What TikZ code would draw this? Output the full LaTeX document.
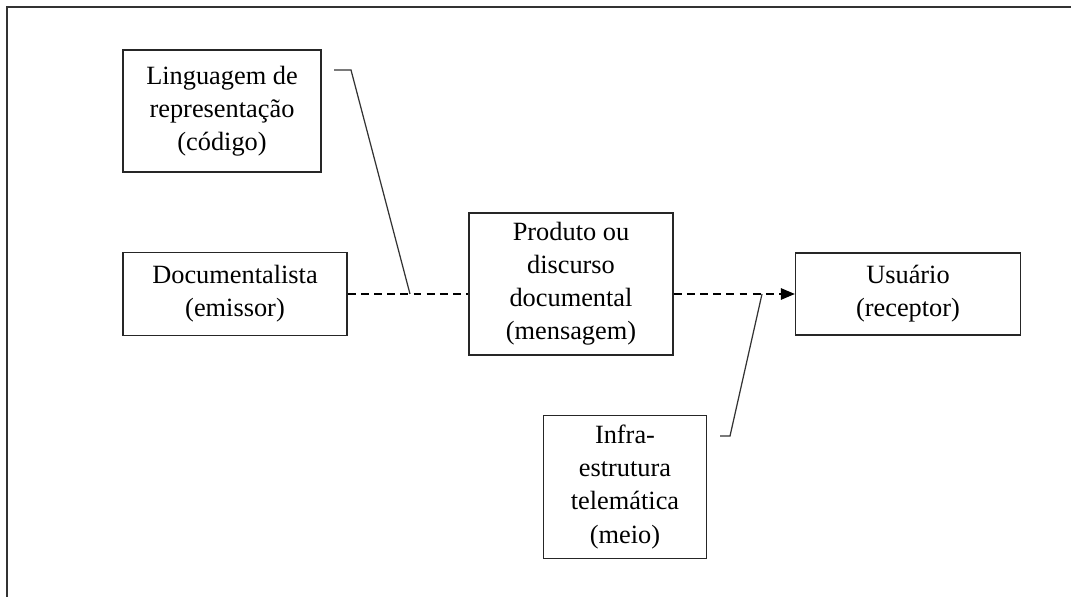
\documentclass[tikz,border=0pt]{standalone}
\usepackage{fontspec}
\setmainfont{Liberation Serif}
\usetikzlibrary{arrows.meta}
\usetikzlibrary{positioning}
\tikzstyle{caixa} = [rectangle, draw=black!85, line width=0.8pt, align=center, inner sep=0pt, font=\fontsize{15}{18.8}\selectfont]
\tikzstyle{fluxo} = [draw=black, line width=0.8pt, dash pattern=on 4.5pt off 3pt]
\tikzstyle{chamada} = [draw=black!80, line width=0.7pt]

\begin{document}
\begin{tikzpicture}[x=0.02cm,y=-0.02cm]
 \useasboundingbox (0,0) rectangle (1071,597);
 % moldura
 \draw[line width=1.2pt, black!80] (7,597) -- (7,7) -- (1071,7);

 \node (ling) [caixa, minimum width=3.96cm, minimum height=2.44cm] at (222,111)
  {Linguagem de\\representação\\(código)};
 \node (doc) [caixa, minimum width=4.48cm, minimum height=1.66cm] at (235,294)
  {Documentalista\\(emissor)};
 \node (prod) [caixa, minimum width=4.08cm, minimum height=2.84cm] at (571,284)
  {Produto ou\\discurso\\documental\\(mensagem)};
 \node (usu) [caixa, minimum width=4.5cm, minimum height=1.64cm] at (908,294)
  {Usuário\\(receptor)};
 \node (infra) [caixa, minimum width=3.26cm, minimum height=2.86cm] at (625,487)
  {Infra-\\estrutura\\telemática\\(meio)};

 % fluxo da mensagem
 \draw[fluxo] (doc.east) -- (prod.west |- doc.east);
 \draw[fluxo, -{Triangle[length=0.28cm,width=0.23cm]}] (prod.east |- usu.west) -- (usu.west);

 % chamadas
 \coordinate (c1) at (334,70);
 \coordinate (c1b) at (351,70);
 \coordinate (j1) at (410,294);
 \draw[chamada] (c1) -- (c1b) -- (j1);
 \coordinate (c2) at (720,436);
 \coordinate (c2b) at (730,436);
 \coordinate (j2) at (762,294);
 \draw[chamada] (c2) -- (c2b) -- (j2);
\end{tikzpicture}
\end{document}
